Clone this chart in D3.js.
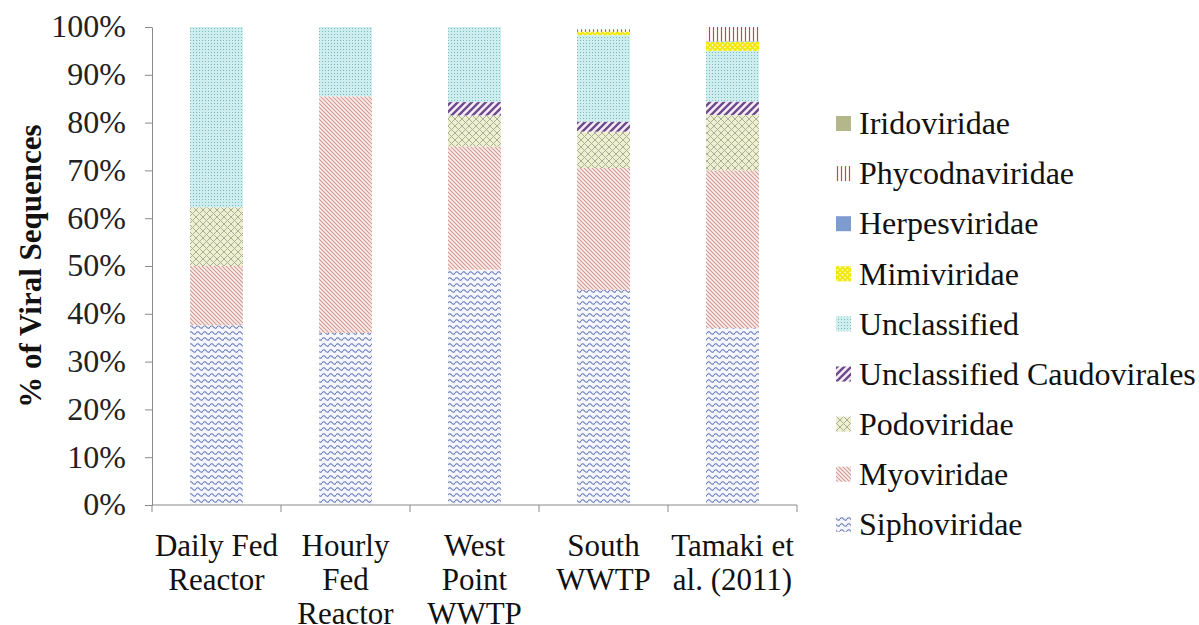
<!DOCTYPE html>
<html>
<head>
<meta charset="utf-8">
<script src="https://cdn.jsdelivr.net/npm/d3@7/dist/d3.min.js"></script>
</head>
<body style="margin:0;background:#fff">
<div id="wrap" style="position:relative;width:1199px;height:625px;overflow:hidden"><svg id="chart" width="1199" height="625" style="display:block;position:absolute;left:0;top:0"></svg></div>
<script>
// Samples (bottom-to-top stacking order follows the series arrays below)
const categories = [
  ["Daily Fed", "Reactor"],
  ["Hourly", "Fed", "Reactor"],
  ["West", "Point", "WWTP"],
  ["South", "WWTP"],
  ["Tamaki et", "al. (2011)"]
];

// Percent of viral sequences per family, one array per family
const siphoviridae            = [37.6, 36.0, 49.2, 45.0, 37.0];
const myoviridae              = [12.4, 49.5, 25.8, 25.5, 33.0];
const podoviridae             = [12.3,  0.0,  6.5,  7.6, 11.6];
const unclassifiedCaudovirales= [ 0.0,  0.0,  2.8,  2.1,  2.8];
const unclassified            = [37.7, 14.5, 15.7, 18.1, 10.6];
const mimiviridae             = [ 0.0,  0.0,  0.0,  0.7,  1.9];
const herpesviridae           = [ 0.0,  0.0,  0.0,  0.0,  0.1];
const phycodnaviridae         = [ 0.0,  0.0,  0.0,  0.5,  3.0];
const iridoviridae            = [ 0.0,  0.0,  0.0,  0.0,  0.0];

const yTicks = [0, 10, 20, 30, 40, 50, 60, 70, 80, 90, 100];

const seriesNames = ["Siphoviridae", "Myoviridae", "Podoviridae", "Unclassified Caudovirales",
  "Unclassified", "Mimiviridae", "Herpesviridae", "Phycodnaviridae", "Iridoviridae"];
const seriesValues = [siphoviridae, myoviridae, podoviridae, unclassifiedCaudovirales,
  unclassified, mimiviridae, herpesviridae, phycodnaviridae, iridoviridae];
const seriesIds = ["sipho", "myo", "podo", "caudo", "uncl", "mimi", "herpes", "phyco", "irido"];

const svg = d3.select("#chart");
const wrapEl = document.getElementById("wrap");
const defs = svg.append("defs");

// Liberation Serif: baseline sits 0.8375em below the top of a line-height:1 box
const BASE = 0.8375;

// HTML label helper, styled inline
function label(text, size, left, top, extra) {
  const d = document.createElement("div");
  d.style.position = "absolute";
  d.style.fontFamily = "'Liberation Serif'";
  d.style.fontSize = size + "px";
  d.style.lineHeight = "1";
  d.style.whiteSpace = "nowrap";
  d.style.color = "#111";
  if (left !== null) d.style.left = left + "px";
  d.style.top = top + "px";
  Object.assign(d.style, extra || {});
  if (Array.isArray(text)) {
    text.forEach((t, k) => {
      if (k) d.appendChild(document.createElement("br"));
      d.appendChild(document.createTextNode(t));
    });
  } else d.textContent = text;
  wrapEl.appendChild(d);
  return d;
}

// ---- fill patterns ----
function pattern(id, w, h, bg) {
  const p = defs.append("pattern").attr("id", id)
    .attr("patternUnits", "userSpaceOnUse").attr("width", w).attr("height", h);
  p.append("rect").attr("width", w).attr("height", h).attr("fill", bg);
  return p;
}
// wavy rows
pattern("sipho", 7, 6, "#f4f6fc")
  .append("path").attr("d", "M0,3 Q1.75,0.5 3.5,3 T7,3")
  .attr("fill", "none").attr("stroke", "#6677b8").attr("stroke-width", 1.1);
// fine diagonal "\" lines
{
  const p = pattern("myo", 4, 4, "#fbeeee");
  p.append("path").attr("d", "M0,0 L4,4 M-1,3 L1,5 M3,-1 L5,1")
    .attr("stroke", "#d49a90").attr("stroke-width", 1.1);
}
// diamond crosshatch on pale yellow
{
  const p = pattern("podo", 7, 7, "#eef0cf");
  p.append("path").attr("d", "M0,0 L7,7 M7,0 L0,7")
    .attr("stroke", "#a9ae98").attr("stroke-width", 1);
}
// bold "/" lines
{
  const p = pattern("caudo", 7, 7, "#f6eef6");
  p.append("path").attr("d", "M0,7 L7,0 M-2,2 L2,-2 M5,9 L9,5")
    .attr("stroke", "#6e4a8c").attr("stroke-width", 2.4);
}
// dotted teal grid
{
  const p = pattern("uncl", 3, 3, "#cdeeee");
  p.append("rect").attr("x", 1).attr("y", 1).attr("width", 1).attr("height", 1).attr("fill", "#7fb7bd");
}
// yellow crosshatch
{
  const p = pattern("mimi", 5, 5, "#fbf8b0");
  p.append("path").attr("d", "M0,0 L5,5 M5,0 L0,5")
    .attr("stroke", "#f0e800").attr("stroke-width", 1.6);
}
// red vertical lines
{
  const p = pattern("phyco", 4, 4, "#fff");
  p.append("path").attr("d", "M1.5,0 L1.5,4")
    .attr("stroke", "#d0443c").attr("stroke-width", 1.2);
}
const fills = {
  sipho: "url(#sipho)", myo: "url(#myo)", podo: "url(#podo)", caudo: "url(#caudo)",
  uncl: "url(#uncl)", mimi: "url(#mimi)", herpes: "#7f9cd0", phyco: "url(#phyco)", irido: "#b3b78a"
};

// ---- scales ----
const x = d3.scaleBand().domain(d3.range(categories.length)).range([152, 797]).paddingInner(0.59).paddingOuter(0.295);
const xStep = d3.scaleBand().domain(d3.range(categories.length)).range([152, 797]);
const y = d3.scaleLinear().domain([0, 100]).range([505, 27]);

// ---- stacked data ----
const rows = categories.map((c, i) => {
  const r = { i };
  seriesIds.forEach((id, k) => r[id] = seriesValues[k][i]);
  return r;
});
const stack = d3.stack().keys(seriesIds)(rows);

const gBars = svg.append("g");
stack.forEach(layer => {
  gBars.append("g").attr("fill", fills[layer.key])
    .selectAll("rect").data(layer.filter(d => d[1] - d[0] > 0)).join("rect")
    .attr("x", d => x(d.data.i))
    .attr("width", x.bandwidth())
    .attr("y", d => y(d[1]))
    .attr("height", d => y(d[0]) - y(d[1]));
});

// ---- axes ----
const axisColor = "#8a8a8a";
const yAxis = svg.append("g").attr("transform", "translate(152,0)")
  .call(d3.axisLeft(y).tickValues(yTicks).tickFormat("").tickSize(7).tickSizeOuter(0));
yAxis.select(".domain").attr("stroke", axisColor);
yAxis.selectAll(".tick line").attr("stroke", axisColor);
yAxis.selectAll(".tick text").remove();

// y tick labels, right-aligned against the axis
const tickFont = 32;
yTicks.forEach(v => {
  label(v + "%", tickFont, null, y(v) + 0.32 * tickFont - BASE * tickFont,
    { right: (1199 - 126) + "px", color: "#222" });
});

const xAxisG = svg.append("g").attr("transform", "translate(0,505)");
xAxisG.append("line").attr("x1", 152).attr("x2", 797).attr("stroke", axisColor);
xAxisG.selectAll("line.tk").data(d3.range(categories.length + 1)).join("line").attr("class", "tk")
  .attr("x1", d => 152 + d * xStep.step()).attr("x2", d => 152 + d * xStep.step())
  .attr("y1", 0).attr("y2", 7).attr("stroke", axisColor);

// category labels (multi-line, centred under each band)
const catFont = 31, catLine = 34;
categories.forEach((lines, i) => {
  label(lines, catFont, xStep(i) + xStep.bandwidth() / 2 - xStep.step() / 2,
    556 - ((catLine - catFont * 1.107) / 2 + 0.891 * catFont),
    { lineHeight: catLine + "px", textAlign: "center", width: xStep.step() + "px" });
});

// y-axis title, rotated
label("% of Viral Sequences", 31, 30, 266,
  { fontWeight: "bold", transform: "translate(-50%,-50%) rotate(-90deg)" });

// ---- legend (top entry = last stacked series) ----
const legendOrder = seriesIds.map((id, k) => ({ id, name: seriesNames[k] })).reverse();
const legendFont = 32;
legendOrder.forEach((d, j) => {
  const cy = 124 + j * 50.1;
  svg.append("rect").attr("x", 836).attr("y", cy - 8).attr("width", 15).attr("height", 15).attr("fill", fills[d.id]);
  label(d.name, legendFont, 859, cy + 10 - BASE * legendFont);
});
</script>
</body>
</html>
